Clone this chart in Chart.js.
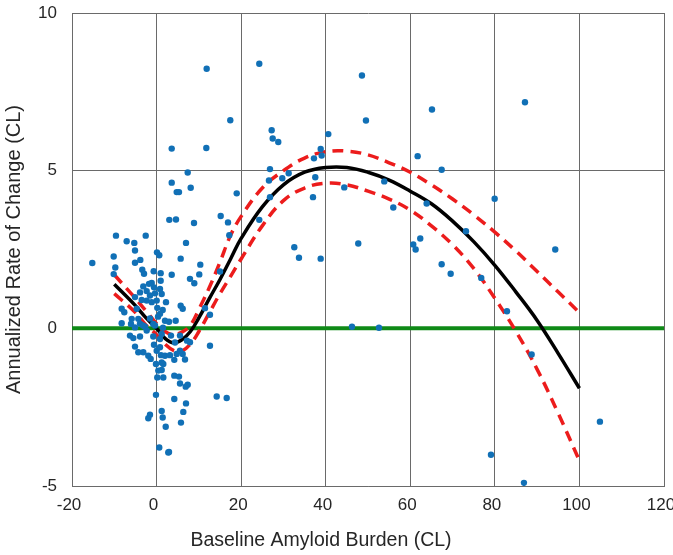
<!DOCTYPE html>
<html>
<head>
<meta charset="utf-8">
<script src="https://cdn.jsdelivr.net/npm/chart.js@4.4.1/dist/chart.umd.min.js"></script>
<style>
  body { margin: 0; background: #fff; }
  #amyloidChart { display: block; }
</style>
</head>
<body>
<canvas id="amyloidChart" width="673" height="555"></canvas>
<script>
// axis ticks
const xTicks = [-20, 0, 20, 40, 60, 80, 100, 120];
const yTicks = [-5, 0, 5, 10];

// individual subjects (baseline CL, annualized change)
const subjectX = [
  11.85, 24.29, 17.43, 27.22, 27.46, 28.78, 3.58, 11.76, 7.36, 26.82,
  3.58, 4.76, 5.30, 8.07, 18.95, 26.58, 3.01, 4.59, 8.85, 15.16,
  16.89, 24.29, 48.57, 49.52, 65.13, 40.61, 38.81, 39.04, 37.22, 61.74,
  67.42, 29.73, 31.24, 37.53, 44.39, 53.85, 36.99, 55.98, 63.87, 26.82,
  32.57, 33.68, 38.81, 47.70, 60.70, 61.27, 62.36, 67.42, 87.12, 79.95,
  73.17, 69.55, 76.78, 94.28, 82.86, 88.70, 104.85, 79.08, 86.88, 46.21,
  52.60,
  -15.20, -9.60, -7.07, -5.27, -2.57, -5.10, -10.14, -5.10, -3.85, 0.10,
  0.64, -9.76, -3.38, -2.97, -0.68, 0.97, -10.14, -1.79, 0.97, -1.15,
  -3.14, -0.61, 0.81, -3.92, -2.34, -1.56, -0.37, 2.23, -5.10, -3.52,
  -2.34, -1.15, 0.03, 0.17, 1.45, -8.25, -7.63, -4.70, -5.88, -4.32,
  0.81, -8.25, -6.05, -5.10, -2.74, -0.78, -6.29, -5.50, -3.92, 1.21,
  17.20, 6.96, 5.70, 10.34, 3.58, 10.10, 7.90, 8.92, 15.00, 1.21,
  5.70, 6.18, 1.99, 2.94, 4.52, 11.45, 12.63, -3.92, -2.34,
  -5.10, -4.32, -3.14, -1.96, -1.39, -0.61, 0.03, 0.81, 1.04, -0.14,
  1.21, 0.41, 0.17, 1.59, -0.14, -1.56, -1.96, 1.21, 1.45, 2.16,
  0.64, 2.77,
  -0.78, 0.81, 1.99, 3.17, 4.76, 6.18, 4.19, 6.72, 5.54, 7.90,
  12.63, 1.59, 1.21, 4.19, 5.30, 5.54, 6.89, 7.36, 4.19, 6.96,
  14.22, 16.58, 6.32, 5.77, 2.94,
  -3.21, -0.37, 1.52, 3.41, 5.54, 7.19, 4.36, -1.56, 0.34
];
const subjectY = [
  8.23, 8.39, 6.60, 6.28, 6.02, 5.91, 5.70, 5.72, 4.94, 5.05,
  4.62, 4.32, 4.32, 4.46, 4.28, 4.69, 3.44, 3.45, 3.34, 3.56,
  3.36, 3.44, 8.02, 6.59, 6.94, 6.16, 5.69, 5.48, 5.39, 5.46,
  5.03, 4.76, 4.92, 4.79, 4.47, 4.66, 4.16, 3.83, 3.96, 4.16,
  2.57, 2.24, 2.21, 2.69, 2.66, 2.50, 2.85, 2.03, 7.17, 4.11,
  3.08, 1.73, 1.60, 2.50, 0.54, -0.83, -2.96, -4.01, -4.90, 0.05,
  0.02,
  2.07, 2.94, 2.76, 2.71, 2.94, 2.47, 2.28, 2.08, 2.17, 2.41,
  2.32, 1.93, 1.86, 1.73, 1.81, 1.75, 1.72, 1.41, 1.51, 1.44,
  1.33, 1.30, 1.25, 1.14, 1.18, 1.04, 1.11, 0.83, 0.99, 0.90,
  0.88, 0.83, 0.88, 0.65, 0.58, 0.62, 0.51, 0.62, 0.30, 0.30,
  0.46, 0.16, 0.14, 0.03, 0.05, 0.14, -0.23, -0.31, -0.26, -0.18,
  2.95, 2.71, 2.21, 2.02, 1.70, 1.71, 1.57, 1.43, 1.80, 1.09,
  0.72, 0.62, 0.24, 0.21, 0.24, 0.64, 0.43, 0.15, -0.07,
  -0.58, -0.76, -0.76, -0.87, -0.97, -0.52, -0.71, -0.60, -0.85, -1.13,
  -1.08, -1.34, -1.56, -1.56, -2.11, -2.74, -2.85, -2.62, -2.83, -3.12,
  -3.78, -3.94,
  -0.26, -0.34, -0.87, -0.85, -0.81, -0.81, -1.00, -0.99, -0.71, -0.44,
  -0.55, -1.13, -1.32, -1.50, -1.53, -1.75, -1.85, -1.79, -2.24, -2.38,
  -2.16, -2.21, -2.65, -2.99, -3.92,
  0.09, 0.09, 0.02, -0.23, -0.23, -0.39, -0.45, 0.31, 0.37
];

// fitted curve and confidence band
const fitX = [-10, -5, -2.5, 0, 2, 4, 6, 8, 10, 12.5, 15, 17.5, 20, 25, 30, 35, 40, 45, 50, 55, 60, 65, 70, 75, 80, 85, 90, 95, 100];
const fitY = [1.40, 0.72, 0.33, 0.00, -0.32, -0.46, -0.36, -0.10, 0.33, 0.95, 1.55, 2.20, 2.85, 3.85, 4.55, 4.95, 5.10, 5.10, 4.95, 4.70, 4.35, 3.95, 3.40, 2.75, 2.00, 1.15, 0.25, -0.80, -1.90];
const ciUpper = [1.70, 0.95, 0.55, 0.15, -0.10, -0.20, -0.12, 0.10, 0.60, 1.30, 2.10, 2.95, 3.55, 4.45, 5.00, 5.40, 5.60, 5.62, 5.50, 5.25, 4.95, 4.55, 4.10, 3.60, 3.05, 2.45, 1.80, 1.15, 0.50];
const ciLower = [1.10, 0.50, 0.10, -0.20, -0.50, -0.70, -0.72, -0.50, -0.10, 0.50, 1.10, 1.65, 2.20, 3.25, 4.05, 4.45, 4.60, 4.55, 4.35, 4.10, 3.75, 3.25, 2.65, 1.90, 0.95, -0.10, -1.30, -2.70, -4.20];

// zero reference line
const refX = [-20, 120];
const refY = [0, 0];

const xTitle = 'Baseline Amyloid Burden (CL)';
const yTitle = 'Annualized Rate of Change (CL)';

function toPoints(xs, ys) {
    return xs.map((x, i) => ({ x: x, y: ys[i] }));
}

// x axis title sits left of the plot centre in the original
const xTitlePlugin = {
    id: 'xTitle',
    afterDraw(chart) {
        const c = chart.ctx;
        c.save();
        c.font = '19.5px "Liberation Sans", Arial, sans-serif';
        c.fillStyle = '#262626';
        c.textAlign = 'center';
        c.textBaseline = 'middle';
        c.fillText(xTitle, 321, 541);
        c.restore();
    }
};

function drawAmyloidChart() {
    const ctx = document.getElementById('amyloidChart').getContext('2d');
    const gridColor = '#6a6a6a';
    const tickFont = { family: '"Liberation Sans", Arial, sans-serif', size: 17 };

    window.amyloidChart = new Chart(ctx, {
        data: {
            datasets: [
                {
                    type: 'scatter',
                    data: toPoints(subjectX, subjectY),
                    backgroundColor: '#1170b6',
                    borderWidth: 0,
                    pointRadius: 3.2,
                    order: 0
                },
                {
                    type: 'line',
                    data: toPoints(fitX, fitY),
                    borderColor: '#000000',
                    borderWidth: 3.5,
                    pointRadius: 0,
                    tension: 0.4,
                    fill: false,
                    order: 1
                },
                {
                    type: 'line',
                    data: toPoints(fitX, ciUpper),
                    borderColor: '#ec1c1c',
                    borderWidth: 3.5,
                    borderDash: [11, 7],
                    pointRadius: 0,
                    tension: 0.4,
                    fill: false,
                    order: 2
                },
                {
                    type: 'line',
                    data: toPoints(fitX, ciLower),
                    borderColor: '#ec1c1c',
                    borderWidth: 3.5,
                    borderDash: [11, 7],
                    pointRadius: 0,
                    tension: 0.4,
                    fill: false,
                    order: 2
                },
                {
                    type: 'line',
                    data: toPoints(refX, refY),
                    borderColor: '#0f8a17',
                    borderWidth: 4,
                    pointRadius: 0,
                    fill: false,
                    order: 3
                }
            ]
        },
        options: {
            responsive: false,
            animation: false,
            layout: { padding: { left: 0, right: 9, top: 13, bottom: 0 } },
            plugins: {
                legend: { display: false },
                tooltip: { enabled: false }
            },
            scales: {
                x: {
                    type: 'linear',
                    min: xTicks[0],
                    max: xTicks[xTicks.length - 1],
                    afterBuildTicks: axis => { axis.ticks = xTicks.map(v => ({ value: v })); },
                    afterFit: axis => {
                        axis.height = 69;
                        axis.paddingLeft = 0;
                        axis.paddingRight = 0;
                    },
                    grid: { color: gridColor, lineWidth: 1, drawTicks: false },
                    border: { color: gridColor, width: 1 },
                    ticks: { color: '#262626', font: tickFont, padding: 9, maxRotation: 0, labelOffset: -3 }
                },
                y: {
                    type: 'linear',
                    min: yTicks[0],
                    max: yTicks[yTicks.length - 1],
                    afterBuildTicks: axis => { axis.ticks = yTicks.map(v => ({ value: v })); },
                    afterFit: axis => {
                        axis.width = 72;
                        axis.paddingTop = 0;
                        axis.paddingBottom = 0;
                    },
                    grid: { color: gridColor, lineWidth: 1, drawTicks: false },
                    border: { color: gridColor, width: 1 },
                    ticks: { color: '#262626', font: tickFont, padding: 15 },
                    title: {
                        display: true,
                        text: yTitle,
                        color: '#262626',
                        font: { family: '"Liberation Sans", Arial, sans-serif', size: 20 },
                        padding: { top: 2, bottom: 0 }
                    }
                }
            }
        },
        plugins: [xTitlePlugin]
    });
}

drawAmyloidChart();
</script>
</body>
</html>
